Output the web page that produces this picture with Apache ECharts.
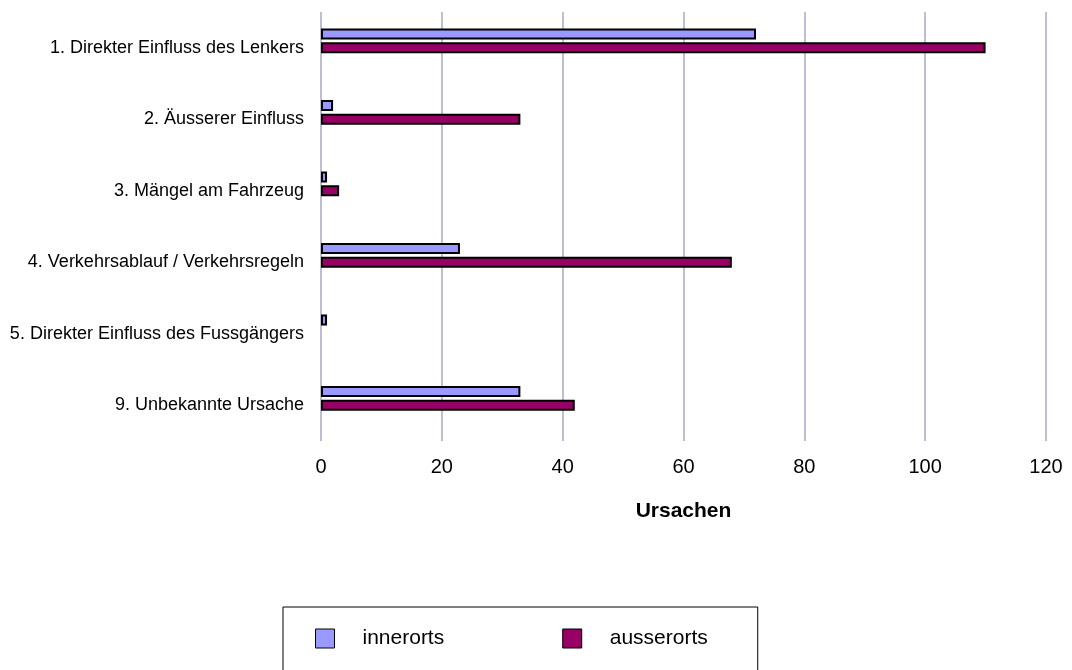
<!DOCTYPE html>
<html>
<head>
<meta charset="utf-8">
<script src="https://cdn.jsdelivr.net/npm/echarts@6/dist/echarts.min.js"></script>
<style>html,body{margin:0;padding:0;background:#fff;}#c{width:1072px;height:670px;}</style>
</head>
<body>
<div id="c"></div>
<script>
const categories = [
  '1. Direkter Einfluss des Lenkers',
  '2. Äusserer Einfluss',
  '3. Mängel am Fahrzeug',
  '4. Verkehrsablauf / Verkehrsregeln',
  '5. Direkter Einfluss des Fussgängers',
  '9. Unbekannte Ursache'
];
const innerorts = [72, 2, 1, 23, 1, 33];
const ausserorts = [110, 33, 3, 68, 0, 42];
const xTicks = { min: 0, max: 120, interval: 20 };
const axisTitle = 'Ursachen';
const seriesNames = ['innerorts', 'ausserorts'];

const FONT = "'Liberation Sans', Arial, sans-serif";
function toData(arr) {
  return arr.map(v => v === 0 ? { value: v, itemStyle: { borderWidth: 0 } } : v);
}
const chart = echarts.init(document.getElementById('c'), null, { renderer: 'canvas' });
chart.setOption({
  animation: false,
  backgroundColor: '#fff',
  textStyle: { fontFamily: FONT },
  grid: { left: 321, right: 26, top: 12, bottom: 229 },
  xAxis: {
    type: 'value', min: xTicks.min, max: xTicks.max, interval: xTicks.interval,
    axisLine: { show: false }, axisTick: { show: false },
    splitLine: { show: true, lineStyle: { color: '#BDBDD3', width: 2 } },
    axisLabel: { fontSize: 20, color: '#000', margin: 16, fontFamily: FONT },
    name: axisTitle, nameLocation: 'middle', nameGap: 60,
    nameTextStyle: { fontSize: 21, fontWeight: 'bold', color: '#000', fontFamily: FONT }
  },
  yAxis: {
    type: 'category', data: categories, inverse: true,
    axisLine: { show: false }, axisTick: { show: false },
    axisLabel: { fontSize: 18, color: '#000', margin: 17, fontFamily: FONT }
  },
  legend: {
    data: seriesNames,
    left: 283, top: 607,
    orient: 'horizontal',
    padding: [21, 50, 40, 32],
    borderColor: '#000', borderWidth: 1,
    itemWidth: 19, itemHeight: 19, itemGap: 118,
    icon: 'rect',
    itemStyle: { borderWidth: 1 },
    textStyle: { fontSize: 21, color: '#000', fontFamily: FONT, padding: [8, 0, 0, 23] }
  },
  series: [
    {
      name: seriesNames[0], type: 'bar', data: toData(innerorts),
      barWidth: 11, barGap: '25%',
      itemStyle: { color: '#9999FF', borderColor: '#000', borderWidth: 2 }
    },
    {
      name: seriesNames[1], type: 'bar', data: toData(ausserorts),
      barWidth: 11, barGap: '25%',
      itemStyle: { color: '#990066', borderColor: '#000', borderWidth: 2 }
    },
    {
      name: 'spacer', type: 'bar', data: categories.map(() => null),
      barWidth: 11, barGap: '25%', silent: true
    }
  ]
});
</script>
</body>
</html>
